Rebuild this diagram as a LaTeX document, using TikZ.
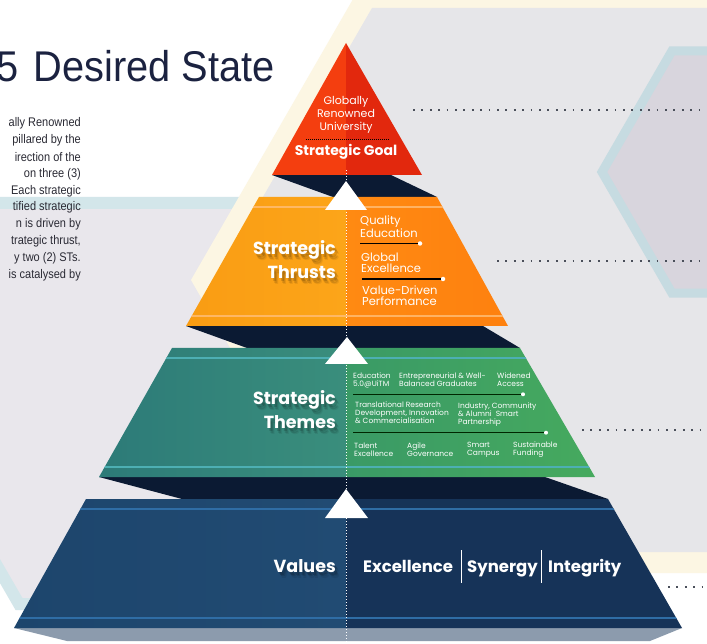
\documentclass[tikz,border=0pt]{standalone}
\usepackage{fontspec}
\setmainfont{Poppins}
\newfontfamily\titlefont{Liberation Sans}
\usetikzlibrary{calc}
\definecolor{bggray}{HTML}{E6E6E9}
\definecolor{lhexfill}{HTML}{E9E7EC}
\definecolor{lhexline}{HTML}{D3E6EA}
\definecolor{cream}{HTML}{FCF6E3}
\definecolor{rhexfill}{HTML}{D8D5DD}
\definecolor{rhexline}{HTML}{C6DBE1}
\definecolor{titlecol}{HTML}{1B2240}
\definecolor{paracol}{HTML}{2A2A34}
\definecolor{darkshade}{HTML}{0B1A33}
\definecolor{redL}{HTML}{F43E0F}
\definecolor{redR}{HTML}{E2280D}
\definecolor{oraL1}{HTML}{F99C13}
\definecolor{oraL2}{HTML}{FCA519}
\definecolor{oraR1}{HTML}{FF8A12}
\definecolor{oraR2}{HTML}{FE800F}
\definecolor{grnL1}{HTML}{2C7A78}
\definecolor{grnL2}{HTML}{3A8E7C}
\definecolor{grnR1}{HTML}{3A9A66}
\definecolor{grnR2}{HTML}{46AA5E}
\definecolor{navL1}{HTML}{1D456C}
\definecolor{navL2}{HTML}{214B73}
\definecolor{navR}{HTML}{163358}
\definecolor{oraLine}{HTML}{FFBE78}
\definecolor{grnLine}{HTML}{4DAFB3}
\definecolor{navLine}{HTML}{2F6DA5}
\definecolor{dotcol}{HTML}{4A4F5A}
\definecolor{baseshadow}{HTML}{8C9BAD}
\newcommand{\shadowlabel}[3]{%
  \foreach \dx/\dy/\op in {4/6/0.07, 3/4.5/0.10, 2/3/0.14} {
    \node[hdr, text=black, opacity=\op] (#1s\dx) at ($(#2)+(\dx,\dy)$) {#3};
  }
  \node[hdr] (#1) at (#2) {#3};
}
\begin{document}
\begin{tikzpicture}[x=1pt,y=-1pt,
  hdr/.style={font=\bfseries\fontsize{17.5}{24}\selectfont, text=white, align=right, anchor=east, inner sep=0},
  item/.style={font=\fontsize{11.5}{11.5}\selectfont, text=white, align=left, anchor=west, inner sep=0},
  small/.style={font=\fontsize{7.5}{8.2}\selectfont, text=white, align=left, anchor=west, inner sep=0},
  value/.style={font=\bfseries\fontsize{16.5}{20}\selectfont, text=white, anchor=base west, inner sep=0},
  para/.style={font=\titlefont\fontsize{12.5}{14}\selectfont, text=paracol, anchor=east, inner sep=0},
  bar/.style={line width=1.2pt, black},
  enddot/.style={circle, fill=white, inner sep=0, minimum size=4.5pt},
  arrowtri/.style={fill=white},
  dotrow/.style={dotcol, line width=1.8pt, dash pattern=on 1.8pt off 6.6pt},
  sep/.style={white, line width=0.9pt}
]
\useasboundingbox (0,0) rectangle (707,644);
\clip (0,0) rectangle (707,644);
\fill[white] (0,0) rectangle (707,644);
% left hexagon
\filldraw[fill=lhexfill, draw=lhexline, line width=12pt]
  (-40,203) -- (248,203) -- (364,403) -- (248,604) -- (19,604) -- (-100,398) -- cycle;
% big hexagon with cream border
\fill[cream] (360,-13) -- (780,-13) -- (780,573) -- (360,573) -- (191,280) -- cycle;
\fill[bggray] (372,8) -- (780,8) -- (780,552) -- (372,552) -- (215,280) -- cycle;
% right hexagon
\filldraw[fill=rhexfill, draw=rhexline, line width=9pt]
  (602,172) -- (672,50.8) -- (812,50.8) -- (882,172) -- (812,293.2) -- (672,293.2) -- cycle;
% dotted leader lines
\coordinate (d1a) at (413,110); \coordinate (d1b) at (710,110);
\coordinate (d2a) at (497,261); \coordinate (d2b) at (710,261);
\coordinate (d3a) at (582,430); \coordinate (d3b) at (710,430);
\coordinate (d4a) at (668,587); \coordinate (d4b) at (710,587);
\draw[dotrow] (d1a) -- (d1b);
\draw[dotrow] (d2a) -- (d2b);
\draw[dotrow] (d3a) -- (d3b);
\draw[dotrow] (d4a) -- (d4b);
% title
\node[anchor=base east, inner sep=0, text=titlecol, font=\titlefont\fontsize{43}{48}\selectfont] (title) at (275,82) {\scalebox{0.925}[1]{5\hspace{5pt} Desired State}};
% paragraph
\node[para] (p1) at (81,123) {\scalebox{0.88}[1]{ally Renowned}};
\node[para] (p2) at (81,140) {\scalebox{0.88}[1]{pillared by the}};
\node[para] (p3) at (81,157) {\scalebox{0.88}[1]{irection of the}};
\node[para] (p4) at (81,174) {\scalebox{0.88}[1]{on three (3)}};
\node[para] (p5) at (81,191) {\scalebox{0.88}[1]{Each strategic}};
\node[para] (p6) at (81,207) {\scalebox{0.88}[1]{tified strategic}};
\node[para] (p7) at (81,224) {\scalebox{0.88}[1]{n is driven by}};
\node[para] (p8) at (81,241) {\scalebox{0.88}[1]{trategic thrust,}};
\node[para] (p9) at (81,258) {\scalebox{0.88}[1]{y two (2) STs.}};
\node[para] (p10) at (81,275) {\scalebox{0.88}[1]{is catalysed by}};
% dark undersides
\fill[darkshade] (272,175) -- (391,175) -- (437,197) -- (333,197) -- cycle;
\fill[darkshade] (186,326) -- (483,326) -- (520,348) -- (247,348) -- cycle;
\fill[darkshade] (99,477) -- (545,477) -- (608,499) -- (182,499) -- cycle;
\fill[baseshadow] (14,628) -- (682,628) -- (650,641) -- (67,641) -- cycle;
% red tier
\begin{scope}
\clip (346,43) -- (422,175) -- (272,175) -- cycle;
\fill[redL] (260,40) rectangle (346,176);
\fill[redR] (346,40) rectangle (430,176);
\end{scope}
% orange tier
\begin{scope}
\clip (259,197) -- (437,197) -- (508,326) -- (186,326) -- cycle;
\shade[left color=oraL1, right color=oraL2] (180,196) rectangle (346,327);
\shade[left color=oraR1, right color=oraR2] (346,196) rectangle (515,327);
\draw[oraLine, line width=2pt, opacity=0.8] (180,207) -- (515,207);
\draw[oraLine, line width=2pt, opacity=0.8] (180,316) -- (515,316);
\end{scope}
% green tier
\begin{scope}
\clip (172,348) -- (520,348) -- (595,477) -- (99,477) -- cycle;
\shade[left color=grnL1, right color=grnL2] (95,347) rectangle (346,478);
\shade[left color=grnR1, right color=grnR2] (346,347) rectangle (600,478);
\draw[grnLine, line width=2pt] (95,358) -- (600,358);
\draw[grnLine, line width=2pt] (95,467) -- (600,467);
\end{scope}
% navy tier
\begin{scope}
\clip (86,499) -- (608,499) -- (682,628) -- (14,628) -- cycle;
\shade[left color=navL1, right color=navL2] (10,498) rectangle (346,629);
\fill[navR] (346,498) rectangle (690,629);
\draw[navLine, line width=2pt] (10,509) -- (690,509);
\draw[navLine, line width=2pt] (10,618) -- (690,618);
\end{scope}
% axis
\coordinate (axtop) at (346,170);
\coordinate (axbot) at (346,644);
\draw[white, line width=1pt, dash pattern=on 1pt off 2pt] (axtop) -- (axbot);
% arrow triangles
\fill[arrowtri] (325,210) -- (367,210) -- (346,181) -- cycle;
\fill[arrowtri] (325,364) -- (368,364) -- (347,337) -- cycle;
\fill[arrowtri] (325,518) -- (368,518) -- (346,489) -- cycle;
% red texts
\node[font=\fontsize{11}{13}\selectfont, text=white, align=center, inner sep=0] (goaltxt) at (346,115) {Globally\\Renowned\\University};
\coordinate (g1) at (306,139); \coordinate (g2) at (389,139);
\draw[black, line width=0.8pt, dash pattern=on 0.8pt off 1.2pt] (g1) -- (g2);
\node[font=\bfseries\fontsize{14}{16}\selectfont, text=white, inner sep=0] (goal) at (346,152) {Strategic Goal};
% orange texts
\shadowlabel{thrusts}{336,260}{Strategic\\Thrusts}
\node[item] (qe) at (360,226.5) {Quality\\Education};
\node[enddot] (qed) at (420,243.5) {};
\coordinate (qes) at (360,243.5);
\draw[bar] (qes) -- (qed);
\node[item] (ge) at (361,263) {Global\\Excellence};
\node[enddot] (ged) at (443,279) {};
\coordinate (ges) at (362,279);
\draw[bar] (ges) -- (ged);
\node[item] (vd) at (362,295.5) {Value-Driven\\Performance};
% green texts
\shadowlabel{themes}{336,410}{Strategic\\Themes}
\node[small] (s1) at (353,380) {Education\\5.0@UiTM};
\node[small] (s2) at (399,380) {Entrepreneurial \& Well-\\Balanced Graduates};
\node[small] (s3) at (497,380) {Widened\\Access};
\coordinate (l1s) at (353,394.3);
\node[enddot, minimum size=4pt] (l1d) at (523,394.3) {};
\draw[bar, line width=1.1pt, draw=black!85!green] (l1s) -- (l1d);
\node[small] (s4) at (355,412.5) {Translational Research\\Development, Innovation\\\& Commercialisation};
\node[small] (s5) at (458,414.5) {Industry, Community\\\& Alumni\ \ Smart\\Partnership};
\coordinate (l2s) at (353,432.7);
\node[enddot, minimum size=4pt] (l2d) at (546,432.7) {};
\draw[bar, line width=1.1pt, draw=black!85!green] (l2s) -- (l2d);
\node[small] (s6) at (354,450) {Talent\\Excellence};
\node[small] (s7) at (407,450) {Agile\\Governance};
\node[small] (s8) at (467,450) {Smart\\Campus};
\node[small] (s9) at (513,450) {Sustainable\\Funding};
% navy texts
\shadowlabel{values}{336,566}{Values}
\node[value] (v1) at (363,572) {Excellence};
\node[value] (v2) at (467,572) {Synergy};
\node[value] (v3) at (548,572) {Integrity};
\coordinate (sep1a) at (461,550); \coordinate (sep1b) at (461,583);
\coordinate (sep2a) at (541,550); \coordinate (sep2b) at (541,583);
\draw[sep] (sep1a) -- (sep1b);
\draw[sep] (sep2a) -- (sep2b);
\end{tikzpicture}
\end{document}
